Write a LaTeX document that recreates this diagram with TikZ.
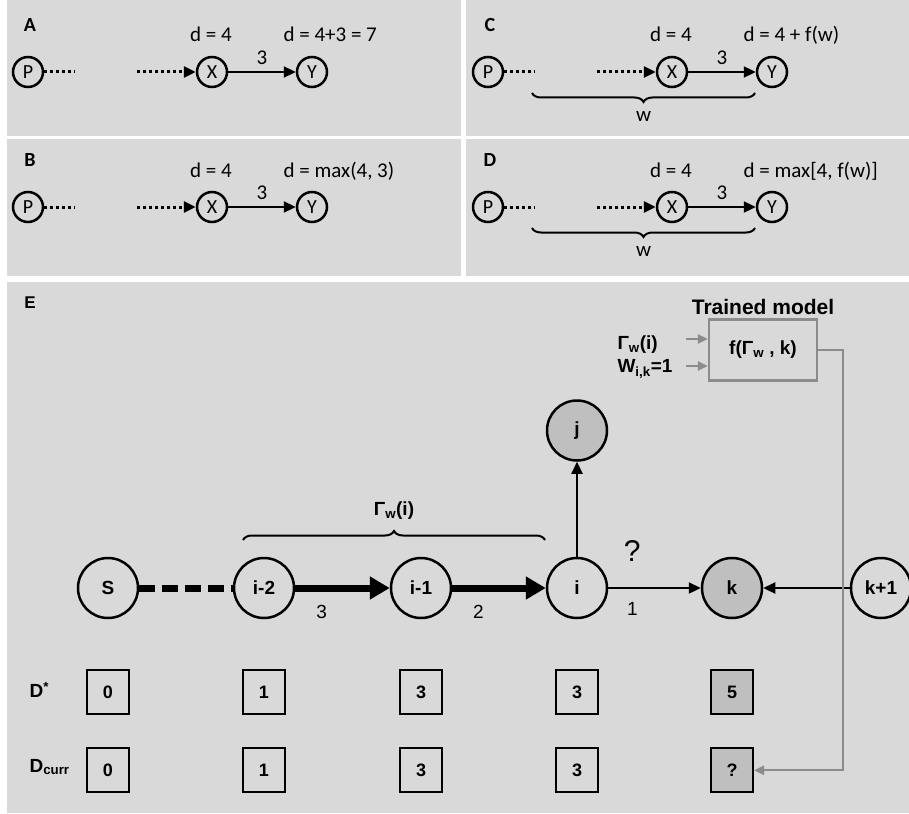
\documentclass[tikz,border=0pt]{standalone}
\usepackage{fontspec}
\setmainfont{Carlito}
\newfontfamily\arialfont{Liberation Sans}
\usetikzlibrary{arrows.meta, decorations.pathreplacing, positioning}
\definecolor{panelgray}{HTML}{D9D9D9}
\definecolor{nodegray}{HTML}{BFBFBF}
\definecolor{linegray}{HTML}{8C8C8C}

\begin{document}
\begin{tikzpicture}[x = 1pt, y = -1pt,
    paneltag/.style = {font = \fontsize{20}{20}\selectfont\bfseries},
    dist/.style = {font = \fontsize{21}{21}\selectfont},
    smallnode/.style = {shape = circle, draw, line width = 2.5pt, minimum size = 30pt, inner sep = 0pt, font = \fontsize{20}{20}\selectfont},
    dotline/.style = {line width = 3pt, dash pattern = on 3pt off 3pt},
    link/.style = {line width = 2.3pt, -{Triangle[length = 12pt, width = 11pt]}},
    wbrace/.style = {decorate, decoration = {brace, amplitude = 9pt}, line width = 2pt},
    bignode/.style = {shape = circle, draw, line width = 2.5pt, minimum size = 60pt, inner sep = 0pt, fill = panelgray, font = \arialfont\fontsize{19}{19}\selectfont\bfseries},
    boldedge/.style = {line width = 7pt, -{Triangle[length = 20pt, width = 22pt]}},
    num/.style = {font = \arialfont\fontsize{19}{19}\selectfont},
    qmark/.style = {font = \arialfont\fontsize{30}{30}\selectfont},
    etext/.style = {font = \arialfont\fontsize{19}{19}\selectfont\bfseries},
    distbox/.style = {draw, line width = 2pt, minimum width = 42pt, minimum height = 44pt, inner sep = 0pt, font = \arialfont\fontsize{18}{18}\selectfont\bfseries},
    modelbox/.style = {draw = linegray, line width = 2.3pt, minimum width = 108pt, minimum height = 61pt, etext},
    grayedge/.style = {draw = linegray, line width = 2.3pt, -{Triangle[length = 10pt, width = 9pt]}}]
    \useasboundingbox (0, 0) rectangle (909, 813);
    \fill[white] (0, 0) rectangle (909, 813);
    % panels
    \fill[panelgray] (7, 0) rectangle (461, 136);
    \fill[panelgray] (7, 139) rectangle (461, 276);
    \fill[panelgray] (466, 0) rectangle (909, 136);
    \fill[panelgray] (466, 139) rectangle (909, 276);
    \fill[panelgray] (7, 282) rectangle (909, 813);
    % panels A to D
    \foreach \tag/\dx/\dy/\result in {A/0/0/{d = 4+3 = 7}, B/0/135/{d = max(4, 3)}, C/460/0/{d = 4 + f(w)}, D/460/135/{d = max[4, f(w)]}} {
        \node[paneltag] at (30 + \dx, 25 + \dy) {\tag};
        \node[smallnode] (P\tag) at (28 + \dx, 72 + \dy) {P};
        \node[smallnode] (X\tag) at (212 + \dx, 72 + \dy) {X};
        \node[smallnode] (Y\tag) at (312 + \dx, 72 + \dy) {Y};
        \coordinate (gapL\tag) at (75 + \dx, 72 + \dy);
        \coordinate (gapR\tag) at (137 + \dx, 72 + \dy);
        \draw[dotline] (P\tag) -- (gapL\tag);
        \draw[dotline, -{Triangle[length = 12pt, width = 11pt]}] (gapR\tag) -- (X\tag);
        \draw[link] (X\tag) -- node[dist, above = 3pt] {3} (Y\tag);
        \node[dist, anchor = base] at (211 + \dx, 42 + \dy) {d = 4};
        \node[dist, anchor = base west] at (280 + \dx, 42 + \dy) {\result};
    }
    \foreach \dy in {0, 135}
        \draw[wbrace] (755, 93 + \dy) -- node[dist, below = 14pt] {w} (532, 93 + \dy);
    % panel E
    \node[paneltag, font = \arialfont\fontsize{17}{17}\selectfont\bfseries] at (30, 303) {E};
    \node[bignode] (S) at (108, 588) {S};
    \node[bignode] (im2) at (264, 588) {i-2};
    \node[bignode] (im1) at (421, 588) {i-1};
    \node[bignode] (i) at (577, 588) {i};
    \node[bignode, fill = nodegray] (k) at (732, 588) {k};
    \node[bignode] (kp1) at (881, 588) {k+1};
    \node[bignode, fill = nodegray, above = 95pt of i] (j) {j};
    \draw[line width = 7pt, dash pattern = on 16pt off 7pt] (S) -- (im2);
    \draw[boldedge] (im2) -- node[num, pos = 0.28, below = 10pt] {3} (im1);
    \draw[boldedge] (im1) -- node[num, pos = 0.28, below = 10pt] {2} (i);
    \draw[link] (i) -- node[num, pos = 0.26, below = 10pt] {1} node[qmark, pos = 0.26, above = 22pt] {?} (k);
    \draw[link] (i) -- (j);
    \draw[link] (kp1) -- (k);
    \draw[wbrace] (243, 540) -- node[etext, above = 16pt] {Γ\textsubscript{w}(i)} (545, 540);
    % distance rows
    \foreach \n/\tint/\best/\curr in {S/panelgray/0/0, im2/panelgray/1/1, im1/panelgray/3/3, i/panelgray/3/3, k/nodegray/5/?} {
        \node[distbox, fill = \tint, below = 50pt of \n] (ds\n) {\best};
        \node[distbox, fill = \tint, below = 32pt of ds\n] (dc\n) {\curr};
    }
    \node[etext, anchor = west] (dstar) at (26, 690) {D\textsuperscript{*}};
    \node[etext, anchor = west] (dcurr) at (26, 767) {D\textsubscript{curr}};
    % trained model
    \node[modelbox] (model) at (763, 350) {f(Γ\textsubscript{w} , k)};
    \node[etext, font = \arialfont\fontsize{21}{21}\selectfont\bfseries, above = 0pt of model] (trained) {Trained model};
    \node[etext, anchor = west] (gammain) at (614, 345) {Γ\textsubscript{w}(i)};
    \node[etext, anchor = west] (weightin) at (614, 369) {W\textsubscript{i,k}=1};
    \coordinate (gammatail) at (686, 339);
    \coordinate (weighttail) at (686, 366);
    \draw[grayedge] (gammatail) -- (gammatail -| model.west);
    \draw[grayedge] (weighttail) -- (weighttail -| model.west);
    \draw[grayedge] (model.east) -- ++(25, 0) |- (dck.east);
\end{tikzpicture}
\end{document}
